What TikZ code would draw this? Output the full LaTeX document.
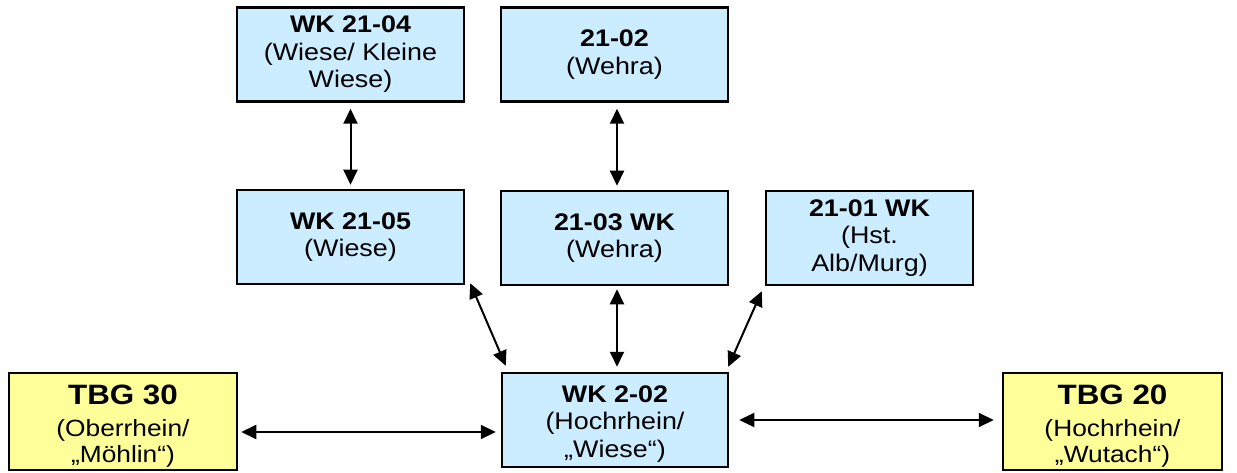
\documentclass[tikz,border=0pt]{standalone}
\usepackage{fontspec}
\setmainfont{Liberation Sans}[FakeStretch=1.12]
\usetikzlibrary{arrows.meta}

\definecolor{wkblue}{RGB}{204,236,255}
\definecolor{tbgyellow}{RGB}{255,255,153}

\newcommand{\tbgtitle}[1]{{\fontsize{28}{30}\selectfont\bfseries\rule{0pt}{28pt}#1}\\[6pt]}

\begin{document}
\begin{tikzpicture}[x=1pt,y=-1pt,line width=2pt,
    >={Triangle[length=15pt,width=14pt]}]
  \tikzstyle{box}=[draw, line width=2.5pt, inner sep=0pt, align=center, minimum height=94pt]
  \tikzstyle{wk}=[box, fill=wkblue, minimum width=227pt, font=\fontsize{24}{27.5}\selectfont]
  \tikzstyle{tbg}=[box, fill=tbgyellow, minimum height=97pt, font=\fontsize{23.5}{26}\selectfont]

  \useasboundingbox (0,0) rectangle (1237,473);

  % upper row
  \node[wk]                  (wk2104) at (350.5,54.5) {\textbf{WK 21-04}\\(Wiese/ Kleine\\Wiese)};
  \node[wk]                  (wk2102) at (614.5,54.5) {\textbf{21-02}\\(Wehra)};

  % middle row
  \node[wk]                  (wk2105) at (350.5,237)  {\textbf{WK 21-05}\\(Wiese)};
  \node[wk]                  (wk2103) at (614.5,238)  {\textbf{21-03 WK}\\(Wehra)};
  \node[wk, minimum width=207pt] (wk2101) at (869.5,238) {\textbf{21-01 WK}\\(Hst.\\Alb/Murg)};

  % lower row
  \node[wk, minimum width=226pt] (wk202) at (615,420)
    {\rule{0pt}{24pt}\textbf{WK 2-02}\\(Hochrhein/\\„Wiese“)};
  \node[tbg, minimum width=228pt] (tbg30) at (123,421.5)
    {\tbgtitle{TBG 30}(Oberrhein/\\„Möhlin“)};
  \node[tbg, minimum width=219pt] (tbg20) at (1112.5,421.5)
    {\tbgtitle{TBG 20}(Hochrhein/\\„Wutach“)};

  \coordinate (l30) at ([yshift=-10.5pt]tbg30.east);

  \path[<->]
  (wk2104) edge [shorten <=6pt, shorten >=4pt] (wk2105)
  ([xshift=2.5pt]wk2102.south) edge [shorten <=6pt, shorten >=4pt] ([xshift=2.5pt]wk2103.north)
  ([xshift=2.5pt]wk2103.south) edge [shorten <=3pt, shorten >=5pt] ([xshift=2pt]wk202.north)
  ([xshift=5pt,yshift=2pt]wk2105.south east) edge ([xshift=5pt,yshift=6pt]wk202.north west)
  ([xshift=-3pt,yshift=-5pt]wk2101.south west) edge ([xshift=-1pt,yshift=5pt]wk202.north east)
  (l30) edge [shorten <=3pt, shorten >=5pt] (l30 -| wk202.west)
  (wk202.east) edge [shorten <=10pt, shorten >=8pt] (wk202.east -| tbg20.west);
\end{tikzpicture}
\end{document}
